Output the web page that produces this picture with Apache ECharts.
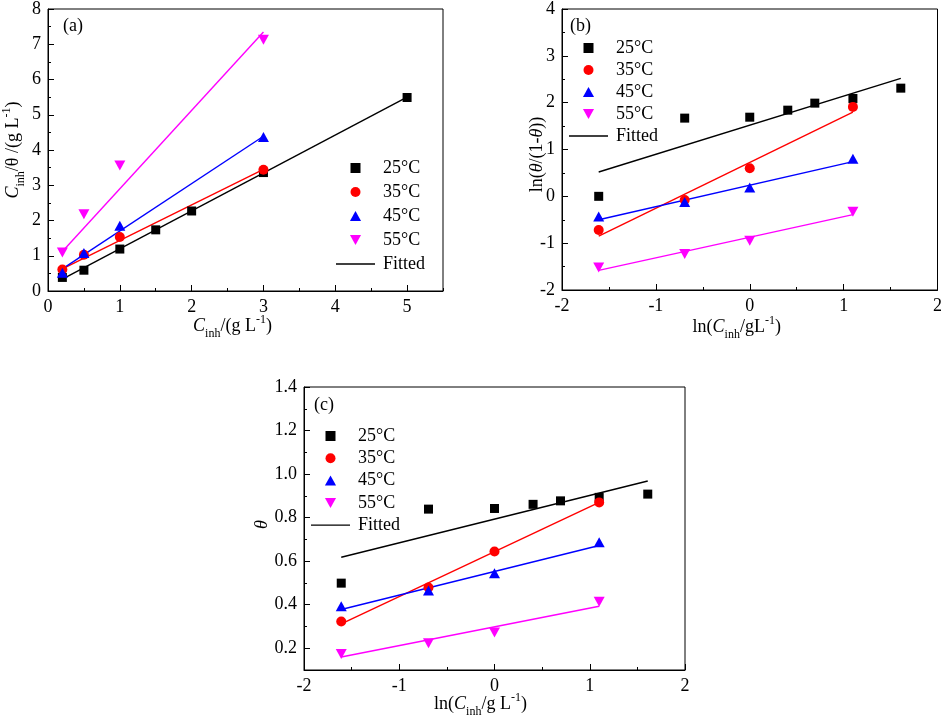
<!DOCTYPE html>
<html>
<head>
<meta charset="utf-8">
<script src="https://cdn.jsdelivr.net/npm/echarts@6/dist/echarts.min.js"></script>
<style>
html,body{margin:0;padding:0;background:#fff;}
#chart{width:945px;height:719px;}
</style>
</head>
<body>
<div id="chart"></div>
<script>
// ---------- data ----------
const legendNames = ['25°C', '35°C', '45°C', '55°C', 'Fitted'];

// Panel (a): C_inh/θ vs C_inh
const concA7 = [0.2, 0.5, 1, 1.5, 2, 3, 5];
const concA4 = [0.2, 0.5, 1, 3];
const a25 = [0.385, 0.59, 1.19, 1.735, 2.27, 3.36, 5.49];
const a35 = [0.61, 1.03, 1.53, 3.44];
const a45 = [0.52, 1.08, 1.85, 4.37];
const a55 = [1.09, 2.18, 3.56, 7.13];
const aFitX25 = [0.2, 5];
const aFitX = [0.2, 3];
const aFit25 = [0.34, 5.5];
const aFit35 = [0.63, 3.45];
const aFit45 = [0.63, 4.39];
const aFit55 = [1.12, 7.35];

// Panel (b): ln(θ/(1-θ)) vs ln(C_inh)
const lnC7 = [-1.609, -0.693, 0, 0.405, 0.693, 1.099, 1.609];
const lnC4 = [-1.609, -0.693, 0, 1.099];
const b25 = [0, 1.67, 1.69, 1.84, 1.99, 2.09, 2.31];
const b35 = [-0.72, -0.08, 0.6, 1.91];
const b45 = [-0.43, -0.12, 0.19, 0.8];
const b55 = [-1.52, -1.23, -0.95, -0.33];
const lnFitX25 = [-1.609, 1.609];
const lnFitX = [-1.609, 1.099];
const bFit25 = [0.52, 2.52];
const bFit35 = [-0.85, 1.8];
const bFit45 = [-0.5, 0.74];
const bFit55 = [-1.58, -0.39];

// Panel (c): θ vs ln(C_inh)
const c25 = [0.499, 0.839, 0.842, 0.861, 0.877, 0.893, 0.908];
const c35 = [0.323, 0.479, 0.644, 0.870];
const c45 = [0.393, 0.465, 0.545, 0.687];
const c55 = [0.174, 0.223, 0.272, 0.413];
const cFit25 = [0.618, 0.968];
const cFit35 = [0.312, 0.870];
const cFit45 = [0.378, 0.672];
const cFit55 = [0.16, 0.393];

// ---------- styling ----------
const FONT = 'Liberation Serif';
const colors = { '25°C': '#000000', '35°C': '#ff0000', '45°C': '#0000ff', '55°C': '#ff00ff' };
const SQ = 'path://M0,0L10,0L10,10L0,10Z';
const UP = 'path://M5,0L10,9L0,9Z';
const DOWN = 'path://M0,0L10,0L5,9Z';
const symbols = {
  '25°C': { symbol: 'rect', size: 9 },
  '35°C': { symbol: 'circle', size: 10 },
  '45°C': { symbol: UP, size: [11, 10] },
  '55°C': { symbol: DOWN, size: [11, 10] }
};
const legendIcons = [SQ, 'circle', UP, DOWN, 'path://M0,0L39,0L39,1.3L0,1.3Z'];
const rich = {
  n: { fontFamily: FONT, fontSize: 18, color: '#000', lineHeight: 24 },
  i: { fontFamily: FONT, fontSize: 18, color: '#000', fontStyle: 'italic', lineHeight: 24 },
  sub: { fontFamily: FONT, fontSize: 12, color: '#000', verticalAlign: 'bottom', lineHeight: 12, padding: [0, 0, -2, 0] },
  sup: { fontFamily: FONT, fontSize: 12, color: '#000', verticalAlign: 'top', lineHeight: 12 }
};

function pairs(xs, ys) { return xs.map((x, k) => [x, ys[k]]); }

function majorsOf(min, max, major) {
  const out = [];
  const start = Math.ceil(min / major - 1e-9);
  for (let k = start; k * major <= max + 1e-9; k++) out.push(+(k * major).toFixed(6));
  return out;
}

function axes(dim, gridIndex, min, max, minor, major, decimals, name, nameGap, namePad) {
  const isMajor = v => Math.abs(v / major - Math.round(v / major)) < 1e-6;
  const main = {
    type: 'value', gridIndex, min, max, interval: minor,
    position: dim === 'x' ? 'bottom' : 'left',
    name, nameLocation: 'middle', nameGap, nameMoveOverlap: false,
    nameTextStyle: { rich, padding: namePad },
    axisLine: { show: true, onZero: false, lineStyle: { color: '#000', width: 1 } },
    axisTick: { show: true, inside: true, length: 3, lineStyle: { color: '#000', width: 1 } },
    axisLabel: {
      show: true, margin: 7, color: '#000', fontFamily: FONT, fontSize: 18,
      formatter: v => isMajor(v) ? (decimals ? v.toFixed(decimals) : String(Math.round(v))) : ''
    },
    splitLine: { show: false }
  };
  const overlay = {
    type: 'value', gridIndex, min, max, interval: minor,
    position: dim === 'x' ? 'bottom' : 'left',
    axisLine: { show: false, onZero: false },
    axisTick: { show: true, inside: true, length: 6, customValues: majorsOf(min, max, major), lineStyle: { color: '#000', width: 1 } },
    axisLabel: { show: false },
    splitLine: { show: false }
  };
  return [main, overlay];
}

const xAxes = [].concat(
  axes('x', 0, 0, 5.5, 0.5, 1, 0, '{i|C}{sub|inh}{n|/(g L}{sup|-1}{n|)}', 23, [0, 26, 0, 0]),
  axes('x', 1, -2, 2, 0.5, 1, 0, '{n|ln(}{i|C}{sub|inh}{n|/gL}{sup|-1}{n|)}', 25, [0, 26, 0, 0]),
  axes('x', 2, -2, 2, 0.5, 1, 0, '{n|ln(}{i|C}{sub|inh}{n|/g L}{sup|-1}{n|)}', 22, [0, 28, 0, 0])
);
const yAxes = [].concat(
  axes('y', 0, 0, 8, 0.5, 1, 0, '{i|C}{sub|inh}{n|/θ /(g L}{sup|-1}{n|)}', 23, [0, 0, 0, 0]),
  axes('y', 1, -2, 4, 0.5, 1, 0, '{n|ln(}{i|θ}{n|/(1-}{i|θ}{n|))}', 13, [0, 10, 0, 0]),
  axes('y', 2, 0.1, 1.4, 0.1, 0.2, 1, '{i|θ}', 30, [0, 0, 0, 8])
);

const series = [];
function addPanel(p, sets, fits) {
  const ax = p * 2;
  sets.forEach(([nm, xs, ys]) => {
    series.push({
      type: 'scatter', name: nm, xAxisIndex: ax, yAxisIndex: ax,
      symbol: symbols[nm].symbol, symbolSize: symbols[nm].size,
      itemStyle: { color: colors[nm], opacity: 1 },
      data: pairs(xs, ys), z: 3, silent: true
    });
  });
  fits.forEach(([nm, col, xs, ys]) => {
    series.push({
      type: 'line', name: nm, xAxisIndex: ax, yAxisIndex: ax,
      symbol: 'none', lineStyle: { color: col, width: 1.4 }, itemStyle: { color: col },
      data: pairs(xs, ys), z: 2, silent: true, animation: false
    });
  });
}
addPanel(0,
  [['25°C', concA7, a25], ['35°C', concA4, a35], ['45°C', concA4, a45], ['55°C', concA4, a55]],
  [['Fitted', '#000', aFitX25, aFit25], ['Fit35', '#ff0000', aFitX, aFit35], ['Fit45', '#0000ff', aFitX, aFit45], ['Fit55', '#ff00ff', aFitX, aFit55]]);
addPanel(1,
  [['25°C', lnC7, b25], ['35°C', lnC4, b35], ['45°C', lnC4, b45], ['55°C', lnC4, b55]],
  [['Fitted', '#000', lnFitX25, bFit25], ['Fit35', '#ff0000', lnFitX, bFit35], ['Fit45', '#0000ff', lnFitX, bFit45], ['Fit55', '#ff00ff', lnFitX, bFit55]]);
addPanel(2,
  [['25°C', lnC7, c25], ['35°C', lnC4, c35], ['45°C', lnC4, c45], ['55°C', lnC4, c55]],
  [['Fitted', '#000', lnFitX25, cFit25], ['Fit35', '#ff0000', lnFitX, cFit35], ['Fit45', '#0000ff', lnFitX, cFit45], ['Fit55', '#ff00ff', lnFitX, cFit55]]);

function legend(left, top, gap) {
  return {
    orient: 'vertical', left, top, padding: 0,
    itemWidth: 39, itemHeight: 10, itemGap: gap,
    selectedMode: false,
    symbolKeepAspect: true,
    data: legendNames.map((nm, k) => ({ name: nm, icon: legendIcons[k], itemStyle: { opacity: 1 } })),
    textStyle: { fontFamily: FONT, fontSize: 18, color: '#000', lineHeight: 20, padding: [0, 0, 0, 3] }
  };
}

const gridBase = { show: true, borderColor: '#000', borderWidth: 1, backgroundColor: 'transparent', containLabel: false };
const titleStyle = { fontFamily: FONT, fontSize: 18, fontWeight: 'normal', color: '#000' };
const option = {
  animation: false,
  backgroundColor: '#fff',
  title: [
    { text: '(a)', left: 63, top: 17, padding: 0, textStyle: titleStyle },
    { text: '(b)', left: 570, top: 17, padding: 0, textStyle: titleStyle },
    { text: '(c)', left: 314, top: 396, padding: 0, textStyle: titleStyle }
  ],
  grid: [
    Object.assign({ left: 47, top: 7, width: 396, height: 284 }, gridBase),
    Object.assign({ left: 562, top: 9, width: 378, height: 281 }, gridBase),
    Object.assign({ left: 304, top: 387, width: 381, height: 284 }, gridBase)
  ],
  legend: [legend(336, 158, 4), legend(569, 38, 2), legend(311, 426, 2.3)],
  xAxis: xAxes,
  yAxis: yAxes,
  series
};

const chart = echarts.init(document.getElementById('chart'), null, { renderer: 'canvas' });
chart.setOption(option);
</script>
</body>
</html>
